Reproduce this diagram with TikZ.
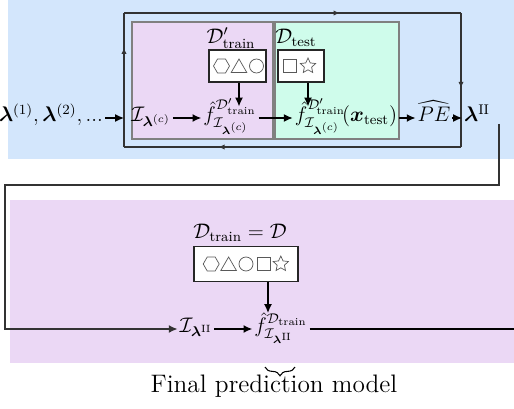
\documentclass[tikz,border=0pt]{standalone}
\usepackage{amsmath,amssymb,bm}
\usepackage{fontspec}
\usetikzlibrary{positioning,arrows.meta,calc,shapes.geometric,decorations.markings,decorations.pathreplacing}
\definecolor{BandBlue}{HTML}{D3E6FC}
\definecolor{BandPurple}{HTML}{EBD8F5}
\definecolor{PanelGreen}{HTML}{CFFCEB}
\definecolor{LoopGray}{HTML}{333333}

\begin{document}
\begin{tikzpicture}[x=0.02cm,y=-0.02cm,
          every node/.style={inner sep=1pt,font=\large},
          ar/.style={-{Latex[length=5pt,width=4.5pt]},thick},
          ln/.style={thick},
          panel/.style={draw=gray,semithick},
          databox/.style={draw=black!85,semithick,fill=white,minimum height=0.64cm},
          glyph/.style={draw=black!65,thin,inner sep=0pt,outer sep=0pt},
          gHex/.style={glyph,regular polygon,regular polygon sides=6,minimum size=0.32cm},
          gTri/.style={glyph,regular polygon,regular polygon sides=3,minimum size=0.36cm,yshift=-0.04cm},
          gCirc/.style={glyph,circle,minimum size=0.28cm},
          gSq/.style={glyph,rectangle,minimum size=0.26cm},
          gStar/.style={glyph,star,star points=5,star point ratio=2.1,minimum size=0.32cm},
          loopline/.style={LoopGray,semithick,postaction={decorate},
            decoration={markings,mark=at position #1 with {\arrow{Latex[length=3.5pt,width=3pt]}}}}]
        \useasboundingbox (0,0) rectangle (514,409);
        \clip (0,0) rectangle (514,409);
        % background bands and panels
        \fill[BandBlue] (8,0) rectangle (514,159);
        \fill[BandPurple] (10,200) rectangle (514,363);
        \draw[panel,fill=BandPurple] (132,22) rectangle (273,139);
        \draw[panel,fill=PanelGreen] (275,22) rectangle (399,139);
        % tuning loop
        \coordinate (loopNW) at (124,13); \coordinate (loopNE) at (461,13);
        \coordinate (loopSE) at (461,147); \coordinate (loopSW) at (124,147);
        \draw[loopline=0.74] (loopSW) -- (loopNW);
        \draw[loopline=0.64] (loopNW) -- (loopNE);
        \draw[loopline=0.56] (loopNE) -- (loopSE);
        \draw[loopline=0.72] (loopSE) -- (loopSW);
        % upper row
        \node[anchor=mid] (lamseq) at (51,118) {$\bm{\lambda}^{(1)},\bm{\lambda}^{(2)},...$};
        \coordinate (loopW) at (124,118);
        \node[anchor=mid] (inducer) at (151,118) {$\mathcal{I}_{\bm{\lambda}^{(c)}}$};
        \node[anchor=mid] (fcv) at (230,118)
        {$\hat{f}^{\mathcal{D}'_{\mathrm{train}}}_{\mathcal{I}_{\bm{\lambda}^{(c)}}}$};
        \node[anchor=mid] (fpred) at (346,118)
        {$\hat{f}^{\mathcal{D}'_{\!\mathrm{train}}}_{\mathcal{I}_{\bm{\lambda}^{(c)}}}\!(\bm{x}_{\mathrm{test}})$};
        \node[anchor=mid] (pe) at (434,118) {$\widehat{PE}$};
        \node[anchor=mid west] (lamopt) at (462,118) {$\bm{\lambda}^{\mathrm{II}}$};
        \node (cvlabel) at (231,38) {$\mathcal{D}'_{\mathrm{train}}$};
        \node (testlabel) at (296,38) {$\mathcal{D}_{\mathrm{test}}$};
        \node[databox,minimum width=1.14cm] (cvbox) at (237.5,66) {};
        \node[databox,minimum width=0.92cm] (testbox) at (301,66) {};
        \node[gHex] (cvhex) at ($(cvbox.center)+(-16,0)$) {};
        \node[gTri] (cvtri) at ($(cvbox.center)+(1.5,0)$) {};
        \node[gCirc] (cvcirc) at ($(cvbox.center)+(19,0)$) {};
        \node[gSq] (testsq) at ($(testbox.center)+(-11,0)$) {};
        \node[gStar] (teststar) at ($(testbox.center)+(7,0)$) {};
        \draw[ar] ([xshift=0.03cm]cvbox.south) -- ++(0,-0.48cm);
        \draw[ar] ([xshift=0.14cm]testbox.south) -- ++(0,-0.48cm);
        \draw[ar] (lamseq.mid east) -- (loopW);
        \draw[ar] (inducer.mid east) -- (fcv.mid west);
        \draw[ar] (fcv.mid east) -- (fpred.mid west);
        \draw[ar] (fpred.mid east) -- (pe.mid west);
        \draw[ar] (pe.mid east) -- (lamopt.mid west);
        % hand over to the final fit
        \coordinate (turnR) at (499,185); \coordinate (turnL) at (5,185);
        \node[anchor=mid] (finduc) at (196,329) {$\mathcal{I}_{\bm{\lambda}^{\mathrm{II}}}$};
        \node[anchor=mid] (ffinal) at (281,329)
        {$\hat{f}^{\mathcal{D}_{\mathrm{train}}}_{\mathcal{I}_{\bm{\lambda}^{\mathrm{II}}}}$};
        \coordinate (rowEnd) at (520,329);
        \draw[ar,LoopGray] (lamopt.south -| turnR) -- (turnR) -- (turnL) |- (finduc.mid west);
        \draw[ar] (finduc.mid east) -- (ffinal.mid west);
        \draw[ln] (ffinal.mid east) -- (rowEnd);
        \node (fulllabel) at (240,233) {$\mathcal{D}_{\mathrm{train}} = \mathcal{D}$};
        \node[databox,minimum width=2.08cm,minimum height=0.7cm] (fullbox) at (246,264) {};
        \foreach \shp [count=\i] in {gHex,gTri,gCirc,gSq,gStar}
          \node[\shp] (full\i) at ($(fullbox.center)+(\i*17.4-52.2,0)$) {};
        \draw[ar] ([xshift=0.44cm]fullbox.south) -- ++(0,-0.62cm);
        % brace and caption
        \coordinate (braceL) at (265,367); \coordinate (braceR) at (295,367);
        \draw[semithick,decorate,decoration={brace,mirror,amplitude=5pt}] (braceL) -- (braceR);
        \node[font=\Large] (caption) at (274,386) {Final prediction model};
      \end{tikzpicture}
\end{document}
